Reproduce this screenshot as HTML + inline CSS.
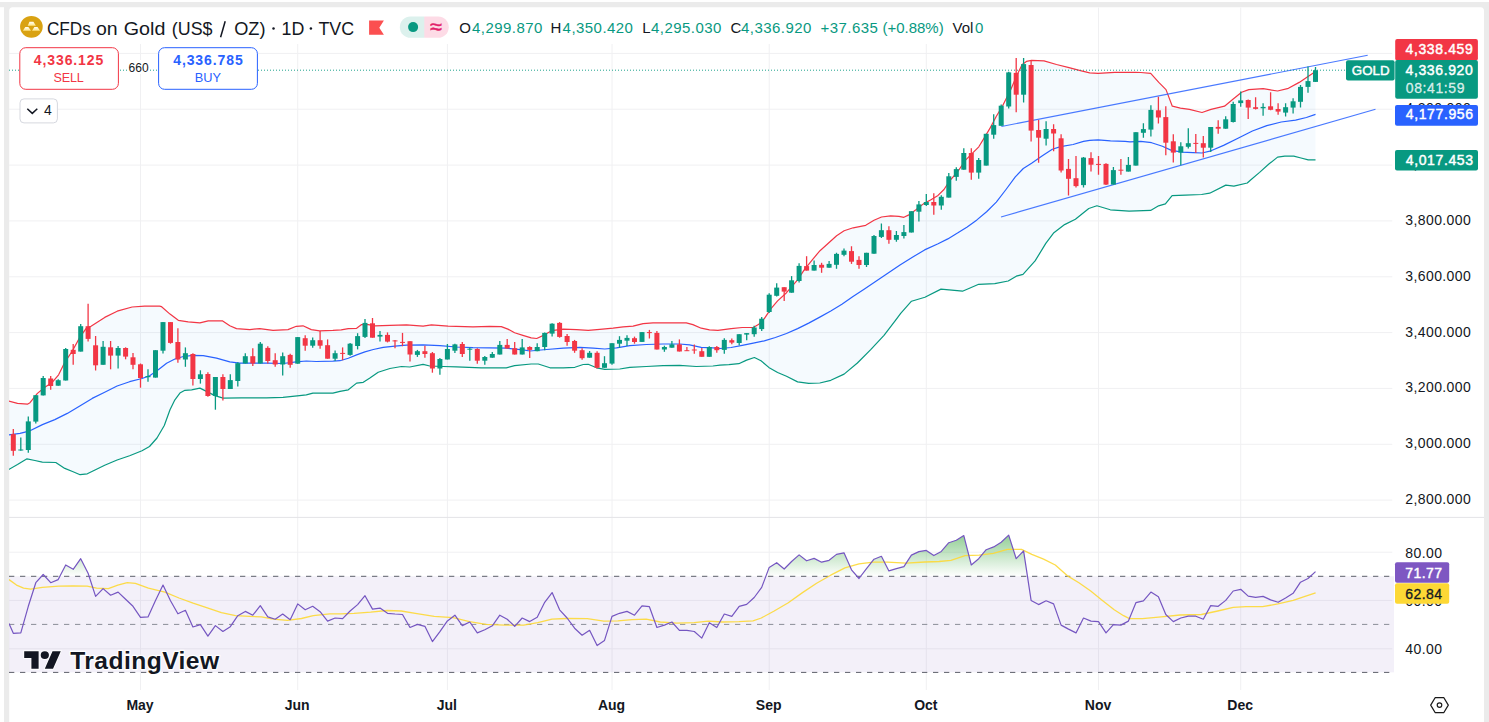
<!DOCTYPE html>
<html><head><meta charset="utf-8"><title>CFDs on Gold</title>
<style>html,body{margin:0;padding:0;background:#fff;}body{width:1489px;height:722px;overflow:hidden;position:relative;font-family:"Liberation Sans",sans-serif;}</style>
</head><body>
<svg width="1489" height="722" viewBox="0 0 1489 722" style="position:absolute;left:0;top:0">
<defs>
<linearGradient id="ob" x1="0" y1="534" x2="0" y2="576.5" gradientUnits="userSpaceOnUse"><stop offset="0" stop-color="#4caf50" stop-opacity="0.62"/><stop offset="1" stop-color="#4caf50" stop-opacity="0"/></linearGradient>
<clipPath id="ca"><rect x="0" y="0" width="1489" height="576.3"/></clipPath>
<clipPath id="pane"><rect x="9" y="7" width="1385.2" height="684"/></clipPath>
<linearGradient id="gb" x1="0" y1="0" x2="0" y2="1"><stop offset="0" stop-color="#ffffff"/><stop offset="1" stop-color="#ffe27a"/></linearGradient>
</defs>
<rect x="0" y="0" width="1489" height="722" fill="#ffffff"/>
<rect x="0" y="2" width="1489" height="5.2" fill="#ebebeb"/>
<rect x="4" y="2" width="1485" height="720" fill="#ebebeb"/>
<rect x="9.2" y="7.2" width="1474.8" height="730" rx="3.5" fill="#ffffff"/>
<line x1="9" y1="53.4" x2="1392.3" y2="53.4" stroke="#f0f0f2" stroke-width="1"/>
<line x1="9" y1="109.2" x2="1392.3" y2="109.2" stroke="#f0f0f2" stroke-width="1"/>
<line x1="9" y1="165.1" x2="1392.3" y2="165.1" stroke="#f0f0f2" stroke-width="1"/>
<line x1="9" y1="220.9" x2="1392.3" y2="220.9" stroke="#f0f0f2" stroke-width="1"/>
<line x1="9" y1="276.8" x2="1392.3" y2="276.8" stroke="#f0f0f2" stroke-width="1"/>
<line x1="9" y1="332.6" x2="1392.3" y2="332.6" stroke="#f0f0f2" stroke-width="1"/>
<line x1="9" y1="388.4" x2="1392.3" y2="388.4" stroke="#f0f0f2" stroke-width="1"/>
<line x1="9" y1="444.3" x2="1392.3" y2="444.3" stroke="#f0f0f2" stroke-width="1"/>
<line x1="9" y1="500.1" x2="1392.3" y2="500.1" stroke="#f0f0f2" stroke-width="1"/>
<line x1="140.5" y1="44" x2="140.5" y2="690" stroke="#f0f0f2" stroke-width="1"/>
<line x1="297.7" y1="44" x2="297.7" y2="690" stroke="#f0f0f2" stroke-width="1"/>
<line x1="447.4" y1="44" x2="447.4" y2="690" stroke="#f0f0f2" stroke-width="1"/>
<line x1="612" y1="44" x2="612" y2="690" stroke="#f0f0f2" stroke-width="1"/>
<line x1="769.2" y1="44" x2="769.2" y2="690" stroke="#f0f0f2" stroke-width="1"/>
<line x1="926.3" y1="44" x2="926.3" y2="690" stroke="#f0f0f2" stroke-width="1"/>
<line x1="1098.5" y1="7.5" x2="1098.5" y2="690" stroke="#f0f0f2" stroke-width="1"/>
<line x1="1240.7" y1="7.5" x2="1240.7" y2="690" stroke="#f0f0f2" stroke-width="1"/>
<line x1="9" y1="552.2" x2="1392.3" y2="552.2" stroke="#f0f0f2" stroke-width="1"/>
<line x1="9" y1="600.4" x2="1392.3" y2="600.4" stroke="#f0f0f2" stroke-width="1"/>
<line x1="9" y1="648.8" x2="1392.3" y2="648.8" stroke="#f0f0f2" stroke-width="1"/>
<line x1="9" y1="517.4" x2="1484" y2="517.4" stroke="#e4e4e7" stroke-width="1"/>
<g clip-path="url(#pane)">
<polygon points="8.7,401 17.5,403.4 27.4,404.2 30,402.7 37.4,393.4 44.9,387.2 52.4,382.2 58.6,374.8 64.8,362.3 72.3,351 79.8,337.4 86,328.6 91,326.2 104.7,317.4 117.2,311.2 132.1,307 144.6,306.2 159.5,306.2 161.6,306.7 170,314.1 178.3,320.3 188.2,321.9 199.9,322.9 208.2,320.8 222.3,320.8 229.8,325.8 236.5,328.6 249.8,329.6 259.7,328.6 273,330.3 288,329.6 296.3,326.3 303,325.8 311.3,329.6 319.6,330.8 332.9,330.4 341.2,329.9 348.3,328.6 356.6,328.3 361.6,324.6 368.3,324.6 374.9,325.8 389.9,325.3 406.5,324.9 423.1,326.1 431.4,324.9 448.1,326.1 473,326.9 489.6,326.3 501.3,326.6 507.9,329.1 514.6,332.8 522.9,335.4 531.2,337.9 536.7,338.5 545,334.6 551.6,330.7 563.3,329.1 576.6,329.6 588.2,330.4 599.8,329.4 613.1,328.2 623.1,326.9 633.1,326.1 643.1,323.7 653,322.9 671.3,322.8 686.3,322.9 692.9,324.6 701.2,328.2 709.5,329.9 717.9,330.4 731.1,328.6 742.2,327.5 753.3,327.5 758.8,324.2 764.3,318.7 771,308.7 777.6,300.9 786.5,292.7 797.6,279.9 804.2,269.9 813.1,258.8 820,250.7 828.3,243.2 836.6,235.7 844.1,230.7 853.2,227.8 865.7,225.3 874,220.3 881.5,217 890.6,215.9 898.9,216.4 903.9,217.3 908.9,214.9 915.6,210 923.1,204.1 930.5,200 938,195.4 944,189.5 949.8,180.7 957.5,172 965.3,160.4 973,152.6 978.8,146.8 984.7,137.1 990.5,127.4 996.2,116.5 1002.5,106.1 1010.8,89.5 1017,74.9 1022.2,64.5 1026.4,61.4 1031.6,60.4 1044,60.8 1056.5,64.5 1069,67.7 1079.4,70.4 1089.7,72.9 1098.1,73.3 1114.7,72.4 1135.5,72.4 1140.8,72.5 1150.7,73.4 1158.8,82.4 1166,89.6 1172.3,106.2 1180.4,108.1 1189.4,109.4 1202,112.5 1211,109.4 1224.5,106.2 1232.6,99.5 1241.6,92.3 1248.8,89.6 1263.2,88.7 1277.6,91 1288.4,88.3 1299.2,82.4 1307.3,77 1315.5,71.6 1315.5,159.8 1308.2,159.8 1301,158 1293.8,156.2 1284.8,156.2 1277.6,157.1 1268.6,164.3 1259.6,172.4 1250.6,180 1247.3,183 1233.9,186.2 1225.8,185.1 1209.7,193.2 1201.6,194.5 1185.5,195.1 1172.1,195.6 1165.4,203.9 1158.6,205.8 1150.6,210.4 1129.1,211.2 1110.3,209.8 1096.9,205.8 1088.8,208.5 1075.4,219.2 1064.6,224.6 1053.9,232.7 1045.8,243.4 1035.1,260.9 1023,274.3 1016.3,276.2 1008.2,281 994.8,283.7 978.7,284.3 962.5,291.2 941,289.1 924.9,297.2 911.5,301.2 900.7,313.3 895.1,320.9 884,335.3 870.7,349.7 857.4,363 844.1,374.1 830.8,380.3 819.8,383 808.7,383.4 797.6,381.9 786.5,376.3 777.6,372.5 768.8,367.4 761,360.8 754.4,357.5 746.6,360.1 738.8,363.7 728.9,364.6 720,365.2 712.9,366 696.2,366.5 679.6,365.3 663,365.6 646.4,366.5 629.8,367.3 619.8,369 604.8,369.3 596.5,367.8 588.2,364.3 583.2,364.5 574.9,367.3 563.3,367.8 550,367.8 538.3,364 531.2,364 514.6,365.7 506.3,367.8 481.3,367.8 456.4,366.8 443.1,366.5 429.8,366 423.1,364.3 409.8,367 401.5,366.5 389.9,368.5 378.2,372.3 369.9,378.1 363.3,382.3 356.6,383.1 348.3,389.8 340,391.4 332.9,393.1 312.9,393.1 306.3,394.8 299.6,395.6 283,397.3 266.4,397.8 241.4,397.8 223.2,398.1 214.8,395.6 206.5,391.4 199.9,388.1 191.6,389.8 184.9,390.3 179.9,393.1 174.9,399.8 170,409.7 164.3,425.5 157,438 149.5,446.5 142,450.8 129.6,455.7 117.1,460 104.7,465.2 95,470 87.3,473.8 80.1,474.7 72.5,471.5 64.8,468.4 55.8,462.5 42.3,462.1 34.9,460.5 27,458.8 17.5,464.5 8.7,469.5" fill="#2196f3" fill-opacity="0.045"/>
<polyline points="8.7,401 17.5,403.4 27.4,404.2 30,402.7 37.4,393.4 44.9,387.2 52.4,382.2 58.6,374.8 64.8,362.3 72.3,351 79.8,337.4 86,328.6 91,326.2 104.7,317.4 117.2,311.2 132.1,307 144.6,306.2 159.5,306.2 161.6,306.7 170,314.1 178.3,320.3 188.2,321.9 199.9,322.9 208.2,320.8 222.3,320.8 229.8,325.8 236.5,328.6 249.8,329.6 259.7,328.6 273,330.3 288,329.6 296.3,326.3 303,325.8 311.3,329.6 319.6,330.8 332.9,330.4 341.2,329.9 348.3,328.6 356.6,328.3 361.6,324.6 368.3,324.6 374.9,325.8 389.9,325.3 406.5,324.9 423.1,326.1 431.4,324.9 448.1,326.1 473,326.9 489.6,326.3 501.3,326.6 507.9,329.1 514.6,332.8 522.9,335.4 531.2,337.9 536.7,338.5 545,334.6 551.6,330.7 563.3,329.1 576.6,329.6 588.2,330.4 599.8,329.4 613.1,328.2 623.1,326.9 633.1,326.1 643.1,323.7 653,322.9 671.3,322.8 686.3,322.9 692.9,324.6 701.2,328.2 709.5,329.9 717.9,330.4 731.1,328.6 742.2,327.5 753.3,327.5 758.8,324.2 764.3,318.7 771,308.7 777.6,300.9 786.5,292.7 797.6,279.9 804.2,269.9 813.1,258.8 820,250.7 828.3,243.2 836.6,235.7 844.1,230.7 853.2,227.8 865.7,225.3 874,220.3 881.5,217 890.6,215.9 898.9,216.4 903.9,217.3 908.9,214.9 915.6,210 923.1,204.1 930.5,200 938,195.4 944,189.5 949.8,180.7 957.5,172 965.3,160.4 973,152.6 978.8,146.8 984.7,137.1 990.5,127.4 996.2,116.5 1002.5,106.1 1010.8,89.5 1017,74.9 1022.2,64.5 1026.4,61.4 1031.6,60.4 1044,60.8 1056.5,64.5 1069,67.7 1079.4,70.4 1089.7,72.9 1098.1,73.3 1114.7,72.4 1135.5,72.4 1140.8,72.5 1150.7,73.4 1158.8,82.4 1166,89.6 1172.3,106.2 1180.4,108.1 1189.4,109.4 1202,112.5 1211,109.4 1224.5,106.2 1232.6,99.5 1241.6,92.3 1248.8,89.6 1263.2,88.7 1277.6,91 1288.4,88.3 1299.2,82.4 1307.3,77 1315.5,71.6" fill="none" stroke="#f23645" stroke-width="1.2" stroke-linejoin="round"/>
<polyline points="8.7,469.5 17.5,464.5 27,458.8 34.9,460.5 42.3,462.1 55.8,462.5 64.8,468.4 72.5,471.5 80.1,474.7 87.3,473.8 95,470 104.7,465.2 117.1,460 129.6,455.7 142,450.8 149.5,446.5 157,438 164.3,425.5 170,409.7 174.9,399.8 179.9,393.1 184.9,390.3 191.6,389.8 199.9,388.1 206.5,391.4 214.8,395.6 223.2,398.1 241.4,397.8 266.4,397.8 283,397.3 299.6,395.6 306.3,394.8 312.9,393.1 332.9,393.1 340,391.4 348.3,389.8 356.6,383.1 363.3,382.3 369.9,378.1 378.2,372.3 389.9,368.5 401.5,366.5 409.8,367 423.1,364.3 429.8,366 443.1,366.5 456.4,366.8 481.3,367.8 506.3,367.8 514.6,365.7 531.2,364 538.3,364 550,367.8 563.3,367.8 574.9,367.3 583.2,364.5 588.2,364.3 596.5,367.8 604.8,369.3 619.8,369 629.8,367.3 646.4,366.5 663,365.6 679.6,365.3 696.2,366.5 712.9,366 720,365.2 728.9,364.6 738.8,363.7 746.6,360.1 754.4,357.5 761,360.8 768.8,367.4 777.6,372.5 786.5,376.3 797.6,381.9 808.7,383.4 819.8,383 830.8,380.3 844.1,374.1 857.4,363 870.7,349.7 884,335.3 895.1,320.9 900.7,313.3 911.5,301.2 924.9,297.2 941,289.1 962.5,291.2 978.7,284.3 994.8,283.7 1008.2,281 1016.3,276.2 1023,274.3 1035.1,260.9 1045.8,243.4 1053.9,232.7 1064.6,224.6 1075.4,219.2 1088.8,208.5 1096.9,205.8 1110.3,209.8 1129.1,211.2 1150.6,210.4 1158.6,205.8 1165.4,203.9 1172.1,195.6 1185.5,195.1 1201.6,194.5 1209.7,193.2 1225.8,185.1 1233.9,186.2 1247.3,183 1250.6,180 1259.6,172.4 1268.6,164.3 1277.6,157.1 1284.8,156.2 1293.8,156.2 1301,158 1308.2,159.8 1315.5,159.8" fill="none" stroke="#089981" stroke-width="1.2" stroke-linejoin="round"/>
<polyline points="8.7,435 20,433.3 30,430.8 42.4,424.6 54.8,419.6 67.3,413.4 79.8,405.9 92.2,398.4 104.7,392.2 117.1,386 129.6,381.7 142,378.5 150,375.6 158.3,369.8 166.6,363.2 174.9,359 183.3,356.5 193.2,355.4 203.2,355.7 216.5,358.2 229.8,361.8 239.8,363.2 253.1,363.2 266.4,363.2 283,363.5 296.3,361.8 306.3,361 316.3,361.5 332.9,361.2 340,360.7 348.3,358.2 356.6,354.9 364.9,351.9 373.3,349.5 383.2,347.4 394.9,346.1 406.5,345.2 423.1,344.9 439.8,345.7 456.4,347 473,347.7 489.6,347.9 506.3,348.2 522.9,349.9 530,351 546.6,349.5 563.3,348.2 579.9,347.4 593.2,348.2 604.8,349 616.5,347.9 629.8,345.7 646.4,344.5 663,344 679.6,344 689.6,344.9 701.2,347.4 712.9,347.9 720,348.5 731.1,347.5 742.2,345.3 753.3,343.1 764.3,340.8 775.4,337.5 786.5,333.5 797.6,328.6 808.7,323.1 819.8,317.1 830.8,310.9 841.9,304.3 853,296.5 864.1,289.2 875.2,281.7 886.3,274.3 900,265 912,257.5 924.6,249.9 938.1,243.7 947.8,238.9 957.5,233.1 967.2,226.9 976.9,219.9 986.6,211.7 996.3,202.1 1006,189.5 1015.3,176.9 1023.3,168.5 1031.6,163.2 1042,156 1052.3,149.3 1060.6,146.6 1073.1,144.5 1083.5,141.4 1089.7,140.4 1098.1,139.8 1110.5,140.8 1125.1,141.4 1130,141.8 1140.8,141.4 1151.6,142.7 1162.4,146.3 1171.4,150.4 1182.2,152.1 1193,152.6 1202,153 1211,150.8 1223.6,145.4 1238,138.2 1252.4,131 1266.8,125.6 1281.2,122 1295.6,120.2 1306.4,117.5 1315.5,114.4" fill="none" stroke="#2962ff" stroke-width="1.2" stroke-linejoin="round"/>
<line x1="1001.4" y1="126.5" x2="1367.7" y2="55.2" stroke="#2962ff" stroke-width="1.1" stroke-opacity="0.85"/>
<line x1="1001" y1="217" x2="1375.5" y2="109.3" stroke="#2962ff" stroke-width="1.1" stroke-opacity="0.85"/>
<line x1="9" y1="70.2" x2="1346" y2="70.2" stroke="#089981" stroke-width="1" stroke-dasharray="1 2" stroke-opacity="0.9"/>
<line x1="13.3" y1="429" x2="13.3" y2="455.7" stroke="#f23645" stroke-width="1.3"/>
<rect x="10.8" y="434.1" width="5" height="16.7" fill="#f23645"/>
<line x1="20.8" y1="437.5" x2="20.8" y2="450.8" stroke="#089981" stroke-width="1.3"/>
<rect x="18.3" y="449.5" width="5" height="1" fill="#089981"/>
<line x1="28.3" y1="416.4" x2="28.3" y2="452.8" stroke="#089981" stroke-width="1.3"/>
<rect x="25.8" y="421.4" width="5" height="28.6" fill="#089981"/>
<line x1="35.8" y1="395" x2="35.8" y2="423.6" stroke="#089981" stroke-width="1.3"/>
<rect x="33.3" y="395.2" width="5" height="26.4" fill="#089981"/>
<line x1="43.2" y1="376" x2="43.2" y2="395.4" stroke="#089981" stroke-width="1.3"/>
<rect x="40.7" y="378" width="5" height="17.4" fill="#089981"/>
<line x1="50.7" y1="376" x2="50.7" y2="389.7" stroke="#f23645" stroke-width="1.3"/>
<rect x="48.2" y="378.5" width="5" height="7.5" fill="#f23645"/>
<line x1="58.2" y1="379.2" x2="58.2" y2="385.7" stroke="#089981" stroke-width="1.3"/>
<rect x="55.7" y="380.2" width="5" height="5.5" fill="#089981"/>
<line x1="65.7" y1="348" x2="65.7" y2="380.5" stroke="#089981" stroke-width="1.3"/>
<rect x="63.2" y="349" width="5" height="31.5" fill="#089981"/>
<line x1="73.2" y1="344" x2="73.2" y2="364.8" stroke="#f23645" stroke-width="1.3"/>
<rect x="70.7" y="349.8" width="5" height="4.2" fill="#f23645"/>
<line x1="80.7" y1="324" x2="80.7" y2="351.6" stroke="#089981" stroke-width="1.3"/>
<rect x="78.2" y="326.2" width="5" height="25.4" fill="#089981"/>
<line x1="88.1" y1="303.7" x2="88.1" y2="341.4" stroke="#f23645" stroke-width="1.3"/>
<rect x="85.6" y="326.2" width="5" height="12.7" fill="#f23645"/>
<line x1="95.6" y1="336" x2="95.6" y2="370.5" stroke="#f23645" stroke-width="1.3"/>
<rect x="93.1" y="345.3" width="5" height="20" fill="#f23645"/>
<line x1="103.1" y1="341" x2="103.1" y2="364.8" stroke="#089981" stroke-width="1.3"/>
<rect x="100.6" y="346.8" width="5" height="18" fill="#089981"/>
<line x1="110.6" y1="341" x2="110.6" y2="369.3" stroke="#f23645" stroke-width="1.3"/>
<rect x="108.1" y="347.3" width="5" height="8.3" fill="#f23645"/>
<line x1="118.1" y1="346" x2="118.1" y2="368.5" stroke="#089981" stroke-width="1.3"/>
<rect x="115.6" y="348" width="5" height="7.6" fill="#089981"/>
<line x1="125.6" y1="347.3" x2="125.6" y2="359.3" stroke="#f23645" stroke-width="1.3"/>
<rect x="123.1" y="348" width="5" height="8.6" fill="#f23645"/>
<line x1="133" y1="353" x2="133" y2="369.3" stroke="#f23645" stroke-width="1.3"/>
<rect x="130.5" y="357.3" width="5" height="7.5" fill="#f23645"/>
<line x1="140.5" y1="363.5" x2="140.5" y2="387.7" stroke="#f23645" stroke-width="1.3"/>
<rect x="138" y="364.3" width="5" height="13.7" fill="#f23645"/>
<line x1="148" y1="369.3" x2="148" y2="381.7" stroke="#089981" stroke-width="1.3"/>
<rect x="145.5" y="376" width="5" height="1.2" fill="#089981"/>
<line x1="155.5" y1="350.2" x2="155.5" y2="377.6" stroke="#089981" stroke-width="1.3"/>
<rect x="153" y="350.2" width="5" height="27.4" fill="#089981"/>
<line x1="163" y1="322.1" x2="163" y2="353.5" stroke="#089981" stroke-width="1.3"/>
<rect x="160.5" y="322.1" width="5" height="28.6" fill="#089981"/>
<line x1="170.5" y1="322.1" x2="170.5" y2="343.7" stroke="#f23645" stroke-width="1.3"/>
<rect x="168" y="322.1" width="5" height="20.8" fill="#f23645"/>
<line x1="177.9" y1="328.3" x2="177.9" y2="362.8" stroke="#f23645" stroke-width="1.3"/>
<rect x="175.4" y="342" width="5" height="17.5" fill="#f23645"/>
<line x1="185.4" y1="347.4" x2="185.4" y2="366.8" stroke="#089981" stroke-width="1.3"/>
<rect x="182.9" y="353.2" width="5" height="6.3" fill="#089981"/>
<line x1="192.9" y1="353.2" x2="192.9" y2="385.6" stroke="#f23645" stroke-width="1.3"/>
<rect x="190.4" y="354" width="5" height="25" fill="#f23645"/>
<line x1="200.4" y1="370.3" x2="200.4" y2="383.6" stroke="#089981" stroke-width="1.3"/>
<rect x="197.9" y="374.3" width="5" height="4.7" fill="#089981"/>
<line x1="207.9" y1="372.3" x2="207.9" y2="396.8" stroke="#f23645" stroke-width="1.3"/>
<rect x="205.4" y="374" width="5" height="22" fill="#f23645"/>
<line x1="215.4" y1="377" x2="215.4" y2="409.7" stroke="#089981" stroke-width="1.3"/>
<rect x="212.9" y="377" width="5" height="19" fill="#089981"/>
<line x1="222.9" y1="374.3" x2="222.9" y2="400.6" stroke="#f23645" stroke-width="1.3"/>
<rect x="220.4" y="377" width="5" height="12" fill="#f23645"/>
<line x1="230.3" y1="374.3" x2="230.3" y2="389" stroke="#089981" stroke-width="1.3"/>
<rect x="227.8" y="380.1" width="5" height="8.9" fill="#089981"/>
<line x1="237.8" y1="362.3" x2="237.8" y2="386.5" stroke="#089981" stroke-width="1.3"/>
<rect x="235.3" y="363.2" width="5" height="17.8" fill="#089981"/>
<line x1="245.3" y1="353.2" x2="245.3" y2="363.5" stroke="#089981" stroke-width="1.3"/>
<rect x="242.8" y="356.2" width="5" height="7.3" fill="#089981"/>
<line x1="252.8" y1="348.2" x2="252.8" y2="366" stroke="#f23645" stroke-width="1.3"/>
<rect x="250.3" y="356.2" width="5" height="7.3" fill="#f23645"/>
<line x1="260.3" y1="342" x2="260.3" y2="363.5" stroke="#089981" stroke-width="1.3"/>
<rect x="257.8" y="343.7" width="5" height="19.8" fill="#089981"/>
<line x1="267.8" y1="346.2" x2="267.8" y2="363.5" stroke="#f23645" stroke-width="1.3"/>
<rect x="265.3" y="347.9" width="5" height="13.1" fill="#f23645"/>
<line x1="275.2" y1="353.2" x2="275.2" y2="366.8" stroke="#f23645" stroke-width="1.3"/>
<rect x="272.7" y="360.2" width="5" height="4.3" fill="#f23645"/>
<line x1="282.7" y1="352.4" x2="282.7" y2="375.6" stroke="#089981" stroke-width="1.3"/>
<rect x="280.2" y="356.2" width="5" height="8.3" fill="#089981"/>
<line x1="290.2" y1="353.7" x2="290.2" y2="367.8" stroke="#f23645" stroke-width="1.3"/>
<rect x="287.7" y="354.9" width="5" height="9.9" fill="#f23645"/>
<line x1="297.7" y1="337.1" x2="297.7" y2="363.7" stroke="#089981" stroke-width="1.3"/>
<rect x="295.2" y="337.1" width="5" height="26.6" fill="#089981"/>
<line x1="305.2" y1="335.2" x2="305.2" y2="350.7" stroke="#f23645" stroke-width="1.3"/>
<rect x="302.7" y="338.2" width="5" height="7.5" fill="#f23645"/>
<line x1="312.7" y1="337.4" x2="312.7" y2="347.7" stroke="#089981" stroke-width="1.3"/>
<rect x="310.2" y="340.2" width="5" height="5.5" fill="#089981"/>
<line x1="320.1" y1="331.1" x2="320.1" y2="348.7" stroke="#f23645" stroke-width="1.3"/>
<rect x="317.6" y="340.2" width="5" height="5.5" fill="#f23645"/>
<line x1="327.6" y1="339.4" x2="327.6" y2="358.7" stroke="#f23645" stroke-width="1.3"/>
<rect x="325.1" y="345.2" width="5" height="13.5" fill="#f23645"/>
<line x1="335.1" y1="350.4" x2="335.1" y2="361" stroke="#089981" stroke-width="1.3"/>
<rect x="332.6" y="353.2" width="5" height="5.5" fill="#089981"/>
<line x1="342.6" y1="347.4" x2="342.6" y2="360.2" stroke="#f23645" stroke-width="1.3"/>
<rect x="340.1" y="352.9" width="5" height="1" fill="#f23645"/>
<line x1="350.1" y1="342.9" x2="350.1" y2="355.7" stroke="#089981" stroke-width="1.3"/>
<rect x="347.6" y="343.7" width="5" height="11.2" fill="#089981"/>
<line x1="357.6" y1="333.2" x2="357.6" y2="349.4" stroke="#089981" stroke-width="1.3"/>
<rect x="355.1" y="336.1" width="5" height="9.9" fill="#089981"/>
<line x1="365" y1="319.1" x2="365" y2="337.9" stroke="#089981" stroke-width="1.3"/>
<rect x="362.5" y="322.9" width="5" height="14" fill="#089981"/>
<line x1="372.5" y1="318" x2="372.5" y2="337.7" stroke="#f23645" stroke-width="1.3"/>
<rect x="370" y="323.3" width="5" height="14.4" fill="#f23645"/>
<line x1="380" y1="331.1" x2="380" y2="341.6" stroke="#089981" stroke-width="1.3"/>
<rect x="377.5" y="334.9" width="5" height="1.7" fill="#089981"/>
<line x1="387.5" y1="332.4" x2="387.5" y2="342.4" stroke="#f23645" stroke-width="1.3"/>
<rect x="385" y="334.9" width="5" height="6.7" fill="#f23645"/>
<line x1="395" y1="339.9" x2="395" y2="348.2" stroke="#f23645" stroke-width="1.3"/>
<rect x="392.5" y="340.4" width="5" height="1" fill="#f23645"/>
<line x1="402.5" y1="332.9" x2="402.5" y2="346.2" stroke="#f23645" stroke-width="1.3"/>
<rect x="400" y="341.9" width="5" height="1" fill="#f23645"/>
<line x1="410" y1="341.2" x2="410" y2="361.5" stroke="#f23645" stroke-width="1.3"/>
<rect x="407.5" y="341.2" width="5" height="13.3" fill="#f23645"/>
<line x1="417.4" y1="349.9" x2="417.4" y2="356.9" stroke="#089981" stroke-width="1.3"/>
<rect x="414.9" y="351.2" width="5" height="3.7" fill="#089981"/>
<line x1="424.9" y1="345.7" x2="424.9" y2="357.7" stroke="#f23645" stroke-width="1.3"/>
<rect x="422.4" y="351.2" width="5" height="2.8" fill="#f23645"/>
<line x1="432.4" y1="352" x2="432.4" y2="372.7" stroke="#f23645" stroke-width="1.3"/>
<rect x="429.9" y="353.2" width="5" height="15.3" fill="#f23645"/>
<line x1="439.9" y1="357.9" x2="439.9" y2="374.8" stroke="#089981" stroke-width="1.3"/>
<rect x="437.4" y="359" width="5" height="9.5" fill="#089981"/>
<line x1="447.4" y1="344" x2="447.4" y2="359.5" stroke="#089981" stroke-width="1.3"/>
<rect x="444.9" y="349" width="5" height="10.5" fill="#089981"/>
<line x1="454.9" y1="343.7" x2="454.9" y2="352.9" stroke="#089981" stroke-width="1.3"/>
<rect x="452.4" y="344.4" width="5" height="6.3" fill="#089981"/>
<line x1="462.3" y1="342" x2="462.3" y2="356.9" stroke="#f23645" stroke-width="1.3"/>
<rect x="459.8" y="344" width="5" height="10" fill="#f23645"/>
<line x1="469.8" y1="347.4" x2="469.8" y2="360.7" stroke="#089981" stroke-width="1.3"/>
<rect x="467.3" y="348.7" width="5" height="1" fill="#089981"/>
<line x1="477.3" y1="348.2" x2="477.3" y2="363.7" stroke="#f23645" stroke-width="1.3"/>
<rect x="474.8" y="349" width="5" height="11.7" fill="#f23645"/>
<line x1="484.8" y1="356" x2="484.8" y2="364.8" stroke="#089981" stroke-width="1.3"/>
<rect x="482.3" y="357" width="5" height="3.7" fill="#089981"/>
<line x1="492.3" y1="352" x2="492.3" y2="357.7" stroke="#089981" stroke-width="1.3"/>
<rect x="489.8" y="354" width="5" height="3.7" fill="#089981"/>
<line x1="499.8" y1="341" x2="499.8" y2="354.5" stroke="#089981" stroke-width="1.3"/>
<rect x="497.3" y="344.9" width="5" height="9.6" fill="#089981"/>
<line x1="507.2" y1="339" x2="507.2" y2="348.5" stroke="#f23645" stroke-width="1.3"/>
<rect x="504.7" y="344.9" width="5" height="3.6" fill="#f23645"/>
<line x1="514.7" y1="342" x2="514.7" y2="354.5" stroke="#f23645" stroke-width="1.3"/>
<rect x="512.2" y="348.2" width="5" height="6.3" fill="#f23645"/>
<line x1="522.2" y1="339" x2="522.2" y2="354.5" stroke="#089981" stroke-width="1.3"/>
<rect x="519.7" y="347.4" width="5" height="7.1" fill="#089981"/>
<line x1="529.7" y1="346.2" x2="529.7" y2="357.9" stroke="#f23645" stroke-width="1.3"/>
<rect x="527.2" y="347" width="5" height="2.9" fill="#f23645"/>
<line x1="537.2" y1="343.2" x2="537.2" y2="351.2" stroke="#089981" stroke-width="1.3"/>
<rect x="534.7" y="347" width="5" height="4.2" fill="#089981"/>
<line x1="544.7" y1="332.4" x2="544.7" y2="350.2" stroke="#089981" stroke-width="1.3"/>
<rect x="542.2" y="332.9" width="5" height="14.1" fill="#089981"/>
<line x1="552.1" y1="323.3" x2="552.1" y2="336.6" stroke="#089981" stroke-width="1.3"/>
<rect x="549.6" y="323.7" width="5" height="9.9" fill="#089981"/>
<line x1="559.6" y1="322.1" x2="559.6" y2="337.7" stroke="#f23645" stroke-width="1.3"/>
<rect x="557.1" y="322.9" width="5" height="14" fill="#f23645"/>
<line x1="567.1" y1="334" x2="567.1" y2="345.7" stroke="#f23645" stroke-width="1.3"/>
<rect x="564.6" y="336" width="5" height="6" fill="#f23645"/>
<line x1="574.6" y1="339.9" x2="574.6" y2="352.8" stroke="#f23645" stroke-width="1.3"/>
<rect x="572.1" y="341" width="5" height="9.7" fill="#f23645"/>
<line x1="582.1" y1="348.2" x2="582.1" y2="359.8" stroke="#f23645" stroke-width="1.3"/>
<rect x="579.6" y="350.2" width="5" height="8" fill="#f23645"/>
<line x1="589.6" y1="351" x2="589.6" y2="357.7" stroke="#089981" stroke-width="1.3"/>
<rect x="587.1" y="352.8" width="5" height="4.9" fill="#089981"/>
<line x1="597.1" y1="351.2" x2="597.1" y2="368.5" stroke="#f23645" stroke-width="1.3"/>
<rect x="594.6" y="352.8" width="5" height="15" fill="#f23645"/>
<line x1="604.5" y1="356.2" x2="604.5" y2="367.8" stroke="#089981" stroke-width="1.3"/>
<rect x="602" y="363.2" width="5" height="4.6" fill="#089981"/>
<line x1="612" y1="343.2" x2="612" y2="364.8" stroke="#089981" stroke-width="1.3"/>
<rect x="609.5" y="343.2" width="5" height="20.4" fill="#089981"/>
<line x1="619.5" y1="336.2" x2="619.5" y2="347.7" stroke="#089981" stroke-width="1.3"/>
<rect x="617" y="339.9" width="5" height="3.8" fill="#089981"/>
<line x1="627" y1="335.2" x2="627" y2="346" stroke="#089981" stroke-width="1.3"/>
<rect x="624.5" y="337.9" width="5" height="2.8" fill="#089981"/>
<line x1="634.5" y1="336.6" x2="634.5" y2="343.7" stroke="#f23645" stroke-width="1.3"/>
<rect x="632" y="338.2" width="5" height="3.8" fill="#f23645"/>
<line x1="642" y1="332.1" x2="642" y2="341.9" stroke="#089981" stroke-width="1.3"/>
<rect x="639.5" y="332.1" width="5" height="9.8" fill="#089981"/>
<line x1="649.4" y1="329.9" x2="649.4" y2="338.5" stroke="#f23645" stroke-width="1.3"/>
<rect x="646.9" y="332.1" width="5" height="1" fill="#f23645"/>
<line x1="656.9" y1="331.1" x2="656.9" y2="349.5" stroke="#f23645" stroke-width="1.3"/>
<rect x="654.4" y="332.9" width="5" height="16.6" fill="#f23645"/>
<line x1="664.4" y1="345.7" x2="664.4" y2="351.8" stroke="#089981" stroke-width="1.3"/>
<rect x="661.9" y="347" width="5" height="2.5" fill="#089981"/>
<line x1="671.9" y1="341" x2="671.9" y2="347.7" stroke="#089981" stroke-width="1.3"/>
<rect x="669.4" y="344.4" width="5" height="3.3" fill="#089981"/>
<line x1="679.4" y1="339.4" x2="679.4" y2="351.5" stroke="#f23645" stroke-width="1.3"/>
<rect x="676.9" y="344.4" width="5" height="7.1" fill="#f23645"/>
<line x1="686.9" y1="347" x2="686.9" y2="351" stroke="#f23645" stroke-width="1.3"/>
<rect x="684.4" y="350.2" width="5" height="1" fill="#f23645"/>
<line x1="694.3" y1="344.4" x2="694.3" y2="353.7" stroke="#f23645" stroke-width="1.3"/>
<rect x="691.8" y="349.5" width="5" height="1" fill="#f23645"/>
<line x1="701.8" y1="347.9" x2="701.8" y2="356.8" stroke="#f23645" stroke-width="1.3"/>
<rect x="699.3" y="351.2" width="5" height="5.6" fill="#f23645"/>
<line x1="709.3" y1="346.2" x2="709.3" y2="356.8" stroke="#089981" stroke-width="1.3"/>
<rect x="706.8" y="347" width="5" height="9.8" fill="#089981"/>
<line x1="716.8" y1="346" x2="716.8" y2="352.7" stroke="#f23645" stroke-width="1.3"/>
<rect x="714.3" y="347" width="5" height="3.2" fill="#f23645"/>
<line x1="724.3" y1="338.2" x2="724.3" y2="353.7" stroke="#089981" stroke-width="1.3"/>
<rect x="721.8" y="339.9" width="5" height="10" fill="#089981"/>
<line x1="731.8" y1="338.6" x2="731.8" y2="344.2" stroke="#f23645" stroke-width="1.3"/>
<rect x="729.3" y="340.2" width="5" height="2.4" fill="#f23645"/>
<line x1="739.2" y1="334.2" x2="739.2" y2="345.3" stroke="#089981" stroke-width="1.3"/>
<rect x="736.7" y="334.2" width="5" height="8.8" fill="#089981"/>
<line x1="746.7" y1="333.1" x2="746.7" y2="340.2" stroke="#089981" stroke-width="1.3"/>
<rect x="744.2" y="333.1" width="5" height="1.5" fill="#089981"/>
<line x1="754.2" y1="325.8" x2="754.2" y2="336.8" stroke="#089981" stroke-width="1.3"/>
<rect x="751.7" y="327.5" width="5" height="6.7" fill="#089981"/>
<line x1="761.7" y1="317.1" x2="761.7" y2="330.9" stroke="#089981" stroke-width="1.3"/>
<rect x="759.2" y="318.7" width="5" height="10.4" fill="#089981"/>
<line x1="769.2" y1="293.2" x2="769.2" y2="313.1" stroke="#089981" stroke-width="1.3"/>
<rect x="766.7" y="294.7" width="5" height="17.3" fill="#089981"/>
<line x1="776.7" y1="283.2" x2="776.7" y2="296.5" stroke="#089981" stroke-width="1.3"/>
<rect x="774.2" y="287.6" width="5" height="8.2" fill="#089981"/>
<line x1="784.2" y1="287.2" x2="784.2" y2="300.9" stroke="#f23645" stroke-width="1.3"/>
<rect x="781.7" y="287.2" width="5" height="4.4" fill="#f23645"/>
<line x1="791.6" y1="276.1" x2="791.6" y2="292.7" stroke="#089981" stroke-width="1.3"/>
<rect x="789.1" y="280.3" width="5" height="12.4" fill="#089981"/>
<line x1="799.1" y1="263.3" x2="799.1" y2="282.5" stroke="#089981" stroke-width="1.3"/>
<rect x="796.6" y="265.9" width="5" height="15.1" fill="#089981"/>
<line x1="806.6" y1="256.2" x2="806.6" y2="270.6" stroke="#f23645" stroke-width="1.3"/>
<rect x="804.1" y="266.1" width="5" height="4.5" fill="#f23645"/>
<line x1="814.1" y1="260.4" x2="814.1" y2="270.6" stroke="#089981" stroke-width="1.3"/>
<rect x="811.6" y="265" width="5" height="5.6" fill="#089981"/>
<line x1="821.6" y1="262.8" x2="821.6" y2="272.8" stroke="#f23645" stroke-width="1.3"/>
<rect x="819.1" y="264.8" width="5" height="2.9" fill="#f23645"/>
<line x1="829.1" y1="261" x2="829.1" y2="267.7" stroke="#089981" stroke-width="1.3"/>
<rect x="826.6" y="263.9" width="5" height="3.8" fill="#089981"/>
<line x1="836.5" y1="252.8" x2="836.5" y2="268.8" stroke="#089981" stroke-width="1.3"/>
<rect x="834" y="253.9" width="5" height="10.9" fill="#089981"/>
<line x1="844" y1="248.4" x2="844" y2="256.2" stroke="#089981" stroke-width="1.3"/>
<rect x="841.5" y="250.6" width="5" height="4.2" fill="#089981"/>
<line x1="851.5" y1="246.2" x2="851.5" y2="263.9" stroke="#f23645" stroke-width="1.3"/>
<rect x="849" y="251.1" width="5" height="10.6" fill="#f23645"/>
<line x1="859" y1="256.2" x2="859" y2="268.8" stroke="#f23645" stroke-width="1.3"/>
<rect x="856.5" y="259.9" width="5" height="5.1" fill="#f23645"/>
<line x1="866.5" y1="252.8" x2="866.5" y2="267" stroke="#089981" stroke-width="1.3"/>
<rect x="864" y="252.8" width="5" height="12.2" fill="#089981"/>
<line x1="874" y1="235.1" x2="874" y2="253.7" stroke="#089981" stroke-width="1.3"/>
<rect x="871.5" y="236" width="5" height="17.7" fill="#089981"/>
<line x1="881.4" y1="223.4" x2="881.4" y2="237.9" stroke="#089981" stroke-width="1.3"/>
<rect x="878.9" y="230.2" width="5" height="6.7" fill="#089981"/>
<line x1="888.9" y1="226.3" x2="888.9" y2="243.7" stroke="#f23645" stroke-width="1.3"/>
<rect x="886.4" y="230.2" width="5" height="9.6" fill="#f23645"/>
<line x1="896.4" y1="231.1" x2="896.4" y2="241.8" stroke="#089981" stroke-width="1.3"/>
<rect x="893.9" y="235" width="5" height="4.8" fill="#089981"/>
<line x1="903.9" y1="224.9" x2="903.9" y2="238.5" stroke="#089981" stroke-width="1.3"/>
<rect x="901.4" y="232.1" width="5" height="3.9" fill="#089981"/>
<line x1="911.4" y1="211.2" x2="911.4" y2="232.5" stroke="#089981" stroke-width="1.3"/>
<rect x="908.9" y="211.2" width="5" height="21.3" fill="#089981"/>
<line x1="918.9" y1="201.1" x2="918.9" y2="221.4" stroke="#089981" stroke-width="1.3"/>
<rect x="916.4" y="204.4" width="5" height="7.3" fill="#089981"/>
<line x1="926.3" y1="193.9" x2="926.3" y2="205.9" stroke="#089981" stroke-width="1.3"/>
<rect x="923.8" y="202" width="5" height="3" fill="#089981"/>
<line x1="933.8" y1="193.3" x2="933.8" y2="214.7" stroke="#f23645" stroke-width="1.3"/>
<rect x="931.3" y="202" width="5" height="3.5" fill="#f23645"/>
<line x1="941.3" y1="195.3" x2="941.3" y2="209.8" stroke="#089981" stroke-width="1.3"/>
<rect x="938.8" y="196.8" width="5" height="8.7" fill="#089981"/>
<line x1="948.8" y1="173" x2="948.8" y2="197.6" stroke="#089981" stroke-width="1.3"/>
<rect x="946.3" y="176.3" width="5" height="21.3" fill="#089981"/>
<line x1="956.3" y1="167.2" x2="956.3" y2="180.7" stroke="#089981" stroke-width="1.3"/>
<rect x="953.8" y="169.1" width="5" height="7.8" fill="#089981"/>
<line x1="963.8" y1="148.2" x2="963.8" y2="169.7" stroke="#089981" stroke-width="1.3"/>
<rect x="961.3" y="153" width="5" height="16.7" fill="#089981"/>
<line x1="971.3" y1="148.2" x2="971.3" y2="179.8" stroke="#f23645" stroke-width="1.3"/>
<rect x="968.8" y="153" width="5" height="19.6" fill="#f23645"/>
<line x1="978.7" y1="158.1" x2="978.7" y2="178.8" stroke="#089981" stroke-width="1.3"/>
<rect x="976.2" y="160" width="5" height="12.6" fill="#089981"/>
<line x1="986.2" y1="133.8" x2="986.2" y2="165.6" stroke="#089981" stroke-width="1.3"/>
<rect x="983.7" y="133.8" width="5" height="31.8" fill="#089981"/>
<line x1="993.7" y1="114.3" x2="993.7" y2="138.8" stroke="#089981" stroke-width="1.3"/>
<rect x="991.2" y="125.1" width="5" height="9.6" fill="#089981"/>
<line x1="1001.2" y1="104.4" x2="1001.2" y2="125.8" stroke="#089981" stroke-width="1.3"/>
<rect x="998.7" y="105.7" width="5" height="20.1" fill="#089981"/>
<line x1="1008.7" y1="71.8" x2="1008.7" y2="108.6" stroke="#089981" stroke-width="1.3"/>
<rect x="1006.2" y="72.4" width="5" height="34.1" fill="#089981"/>
<line x1="1016.2" y1="57.9" x2="1016.2" y2="112.3" stroke="#f23645" stroke-width="1.3"/>
<rect x="1013.7" y="72.9" width="5" height="21.8" fill="#f23645"/>
<line x1="1023.6" y1="57.9" x2="1023.6" y2="102.6" stroke="#089981" stroke-width="1.3"/>
<rect x="1021.1" y="64.1" width="5" height="30.6" fill="#089981"/>
<line x1="1031.1" y1="60" x2="1031.1" y2="141.4" stroke="#f23645" stroke-width="1.3"/>
<rect x="1028.6" y="65" width="5" height="65.6" fill="#f23645"/>
<line x1="1038.6" y1="120" x2="1038.6" y2="162.8" stroke="#f23645" stroke-width="1.3"/>
<rect x="1036.1" y="130" width="5" height="7.7" fill="#f23645"/>
<line x1="1046.1" y1="121.3" x2="1046.1" y2="145.6" stroke="#089981" stroke-width="1.3"/>
<rect x="1043.6" y="129" width="5" height="9.7" fill="#089981"/>
<line x1="1053.6" y1="124.2" x2="1053.6" y2="151.2" stroke="#f23645" stroke-width="1.3"/>
<rect x="1051.1" y="129" width="5" height="4.5" fill="#f23645"/>
<line x1="1061.1" y1="134.2" x2="1061.1" y2="172.6" stroke="#f23645" stroke-width="1.3"/>
<rect x="1058.6" y="138.3" width="5" height="32.2" fill="#f23645"/>
<line x1="1068.5" y1="159.1" x2="1068.5" y2="195.5" stroke="#f23645" stroke-width="1.3"/>
<rect x="1066" y="168.9" width="5" height="9.9" fill="#f23645"/>
<line x1="1076" y1="156" x2="1076" y2="187.6" stroke="#f23645" stroke-width="1.3"/>
<rect x="1073.5" y="178.2" width="5" height="7.9" fill="#f23645"/>
<line x1="1083.5" y1="157" x2="1083.5" y2="187.6" stroke="#089981" stroke-width="1.3"/>
<rect x="1081" y="157.6" width="5" height="27.5" fill="#089981"/>
<line x1="1091" y1="152.2" x2="1091" y2="171.6" stroke="#f23645" stroke-width="1.3"/>
<rect x="1088.5" y="158.1" width="5" height="6.6" fill="#f23645"/>
<line x1="1098.5" y1="156" x2="1098.5" y2="174.7" stroke="#f23645" stroke-width="1.3"/>
<rect x="1096" y="163.9" width="5" height="1" fill="#f23645"/>
<line x1="1106" y1="163.2" x2="1106" y2="185.1" stroke="#f23645" stroke-width="1.3"/>
<rect x="1103.5" y="163.9" width="5" height="20.7" fill="#f23645"/>
<line x1="1113.4" y1="167" x2="1113.4" y2="184.6" stroke="#089981" stroke-width="1.3"/>
<rect x="1110.9" y="170.1" width="5" height="14.5" fill="#089981"/>
<line x1="1120.9" y1="159.1" x2="1120.9" y2="174.7" stroke="#f23645" stroke-width="1.3"/>
<rect x="1118.4" y="169.7" width="5" height="1" fill="#f23645"/>
<line x1="1128.4" y1="157" x2="1128.4" y2="171.6" stroke="#089981" stroke-width="1.3"/>
<rect x="1125.9" y="164.9" width="5" height="6.7" fill="#089981"/>
<line x1="1135.9" y1="132.2" x2="1135.9" y2="165.6" stroke="#089981" stroke-width="1.3"/>
<rect x="1133.4" y="132.2" width="5" height="33.4" fill="#089981"/>
<line x1="1143.4" y1="123.2" x2="1143.4" y2="137.7" stroke="#089981" stroke-width="1.3"/>
<rect x="1140.9" y="129.1" width="5" height="3.7" fill="#089981"/>
<line x1="1150.9" y1="105.3" x2="1150.9" y2="136.4" stroke="#089981" stroke-width="1.3"/>
<rect x="1148.4" y="109.9" width="5" height="19.7" fill="#089981"/>
<line x1="1158.4" y1="96.8" x2="1158.4" y2="123.4" stroke="#f23645" stroke-width="1.3"/>
<rect x="1155.9" y="110.3" width="5" height="7.2" fill="#f23645"/>
<line x1="1165.8" y1="106.3" x2="1165.8" y2="155.3" stroke="#f23645" stroke-width="1.3"/>
<rect x="1163.3" y="117.1" width="5" height="25.6" fill="#f23645"/>
<line x1="1173.3" y1="134.2" x2="1173.3" y2="162.5" stroke="#f23645" stroke-width="1.3"/>
<rect x="1170.8" y="141.3" width="5" height="11.3" fill="#f23645"/>
<line x1="1180.8" y1="142.3" x2="1180.8" y2="165.2" stroke="#089981" stroke-width="1.3"/>
<rect x="1178.3" y="146.3" width="5" height="6.3" fill="#089981"/>
<line x1="1188.3" y1="128.3" x2="1188.3" y2="148.6" stroke="#089981" stroke-width="1.3"/>
<rect x="1185.8" y="143.2" width="5" height="3.6" fill="#089981"/>
<line x1="1195.8" y1="134.1" x2="1195.8" y2="153.1" stroke="#f23645" stroke-width="1.3"/>
<rect x="1193.3" y="142.9" width="5" height="1" fill="#f23645"/>
<line x1="1203.3" y1="136" x2="1203.3" y2="157.6" stroke="#f23645" stroke-width="1.3"/>
<rect x="1200.8" y="143.2" width="5" height="4.5" fill="#f23645"/>
<line x1="1210.7" y1="127" x2="1210.7" y2="152.1" stroke="#089981" stroke-width="1.3"/>
<rect x="1208.2" y="127" width="5" height="20.7" fill="#089981"/>
<line x1="1218.2" y1="120.2" x2="1218.2" y2="133.7" stroke="#f23645" stroke-width="1.3"/>
<rect x="1215.7" y="126.9" width="5" height="1.8" fill="#f23645"/>
<line x1="1225.7" y1="116.2" x2="1225.7" y2="128.7" stroke="#089981" stroke-width="1.3"/>
<rect x="1223.2" y="119.3" width="5" height="9.4" fill="#089981"/>
<line x1="1233.2" y1="101.7" x2="1233.2" y2="122.5" stroke="#089981" stroke-width="1.3"/>
<rect x="1230.7" y="104" width="5" height="18" fill="#089981"/>
<line x1="1240.7" y1="91.4" x2="1240.7" y2="106.7" stroke="#089981" stroke-width="1.3"/>
<rect x="1238.2" y="100.4" width="5" height="2.7" fill="#089981"/>
<line x1="1248.2" y1="99.5" x2="1248.2" y2="118.9" stroke="#f23645" stroke-width="1.3"/>
<rect x="1245.7" y="100" width="5" height="7.6" fill="#f23645"/>
<line x1="1255.6" y1="97.2" x2="1255.6" y2="109.4" stroke="#f23645" stroke-width="1.3"/>
<rect x="1253.1" y="107.2" width="5" height="1.7" fill="#f23645"/>
<line x1="1263.1" y1="103.3" x2="1263.1" y2="115.7" stroke="#089981" stroke-width="1.3"/>
<rect x="1260.6" y="106.9" width="5" height="1.4" fill="#089981"/>
<line x1="1270.6" y1="92.3" x2="1270.6" y2="110.3" stroke="#f23645" stroke-width="1.3"/>
<rect x="1268.1" y="106.3" width="5" height="3.5" fill="#f23645"/>
<line x1="1278.1" y1="103.3" x2="1278.1" y2="114.8" stroke="#f23645" stroke-width="1.3"/>
<rect x="1275.6" y="109" width="5" height="2.6" fill="#f23645"/>
<line x1="1285.6" y1="103.3" x2="1285.6" y2="116.6" stroke="#089981" stroke-width="1.3"/>
<rect x="1283.1" y="107.2" width="5" height="5.4" fill="#089981"/>
<line x1="1293.1" y1="98.2" x2="1293.1" y2="113.5" stroke="#089981" stroke-width="1.3"/>
<rect x="1290.6" y="101.3" width="5" height="6.3" fill="#089981"/>
<line x1="1300.5" y1="85.1" x2="1300.5" y2="107.6" stroke="#089981" stroke-width="1.3"/>
<rect x="1298" y="86.9" width="5" height="14.9" fill="#089981"/>
<line x1="1308" y1="66.6" x2="1308" y2="92.7" stroke="#089981" stroke-width="1.3"/>
<rect x="1305.5" y="81.1" width="5" height="5.8" fill="#089981"/>
<line x1="1315.5" y1="67.1" x2="1315.5" y2="81.9" stroke="#089981" stroke-width="1.3"/>
<rect x="1313" y="70.2" width="5" height="11.7" fill="#089981"/>
<rect x="9" y="576.3" width="1385.2" height="96" fill="#7e57c2" fill-opacity="0.09"/>
<polygon points="9,576.3 9,623.5 13.3,633.3 20.8,632.9 28.3,606.3 35.8,582.7 43.2,574.5 50.7,582.7 58.2,579.6 65.7,565 73.2,569.3 80.7,558.7 88.1,573.3 95.6,596.4 103.1,588.6 110.6,595.2 118.1,592.1 125.6,599.2 133,606.3 140.5,617.3 148,616.9 155.5,600.4 163,585.1 170.5,600.8 177.9,613.8 185.4,610.3 192.9,627 200.4,624.6 207.9,636.2 215.4,625.6 222.9,631.5 230.3,626.7 237.8,615.7 245.3,611.4 252.8,615.2 260.3,605.6 267.8,616.9 275.2,619.2 282.7,614 290.2,619.7 297.7,603.9 305.2,609.8 312.7,606.3 320.1,611.7 327.6,621.1 335.1,618 342.6,618.7 350.1,611 357.6,604.6 365,595.7 372.5,609.1 380,608.1 387.5,613.3 395,614 402.5,614.5 410,627.5 417.4,624.4 424.9,626.3 432.4,641.6 439.9,631.7 447.4,620.9 454.9,615.2 462.3,625.6 469.8,622 477.3,632.9 484.8,629.8 492.3,625.8 499.8,615.2 507.2,619.2 514.7,626.3 522.2,618 529.7,621.6 537.2,617.3 544.7,602.3 552.1,592.6 559.6,609.8 567.1,618 574.6,628.2 582.1,635.2 589.6,630.3 597.1,645.6 604.5,640.4 612,616.4 619.5,613.3 627,611.4 634.5,615.2 642,605.8 649.4,606.7 656.9,627.5 664.4,625.1 671.9,622 679.4,630.3 686.9,630.3 694.3,631.5 701.8,638.1 709.3,622.7 716.8,627.5 724.3,614 731.8,616.4 739.2,606.3 746.7,604.4 754.2,597.5 761.7,587.4 769.2,567.4 776.7,562.7 784.2,569 791.6,561.5 799.1,554.9 806.6,560.8 814.1,558.4 821.6,562.2 829.1,560.3 836.5,554.4 844,552.8 851.5,569.8 859,578.5 866.5,568.6 874,559.2 881.4,556.3 888.9,570.9 896.4,568.6 903.9,566.7 911.4,555.1 918.9,551.6 926.3,550.4 933.8,555.6 941.3,551.4 948.8,542.7 956.3,540.3 963.8,535.6 971.3,565 978.7,558.7 986.2,549.7 993.7,546.9 1001.2,542.2 1008.7,535.1 1016.2,558.7 1023.6,550.9 1031.1,600.4 1038.6,604.6 1046.1,600.8 1053.6,603.9 1061.1,625.1 1068.5,629.1 1076,632.9 1083.5,618 1091,621.1 1098.5,621.6 1106,632.9 1113.4,624.6 1120.9,625.1 1128.4,621.1 1135.9,602.7 1143.4,600.8 1150.9,592.1 1158.4,596.8 1165.8,614.5 1173.3,621.6 1180.8,618 1188.3,616.2 1195.8,616.2 1203.3,619.2 1210.7,605.6 1218.2,606.3 1225.7,600.4 1233.2,591 1240.7,589.3 1248.2,596.1 1255.6,597.3 1263.1,596.4 1270.6,599.9 1278.1,602.3 1285.6,598 1293.1,593.3 1300.5,582.2 1308,578.5 1315.5,571.6 1315.5,576.3" fill="url(#ob)" clip-path="url(#ca)"/>
<line x1="9" y1="576.3" x2="1389.5" y2="576.3" stroke="#5d606b" stroke-width="1" stroke-dasharray="5.3 5.7" stroke-dashoffset="0"/>
<line x1="9" y1="624.4" x2="1389.5" y2="624.4" stroke="#8a8d97" stroke-width="1" stroke-dasharray="5.3 5.7" stroke-dashoffset="0"/>
<line x1="9" y1="672.4" x2="1389.5" y2="672.4" stroke="#5d606b" stroke-width="1" stroke-dasharray="5.3 5.7" stroke-dashoffset="0"/>
<polyline points="9,579.6 16.5,585.1 23.6,588.1 30.6,589.1 42.4,587.4 58.9,586.2 73,585.8 87.1,586.2 96.6,588.1 108.3,588.6 117.8,585.1 127.2,582.7 135.4,583.4 148.4,588.1 164.9,592.1 179,598 193.1,603.2 207.3,607.9 221.4,612.6 235.5,615.7 249.7,616.4 261.4,616.9 273.2,619.2 287.3,620.4 301.5,618.5 313.3,615.7 329.7,613.8 340,613.8 354.1,613.3 370.6,612.1 387.1,610.5 401.2,611 415.4,613.3 434.2,616.4 453.1,617.6 469.5,621.6 486,624.4 504.9,625.1 523.7,625.1 537.8,622.7 552,619.2 566.1,618.5 587.3,618.7 603.8,621.1 617.9,620.9 632.1,619.7 646.2,619.2 660.3,622 676.8,623.2 694.1,622.7 708.3,621.1 722.4,622 738.9,621.6 753,620.9 761.3,618 774.2,611 788.3,602.7 802.5,592.6 816.6,583.2 830.7,575.2 844.9,567.9 859,563.9 873.1,562.2 887.3,562.2 906.1,563.2 925,562 939.1,561.5 950.9,560.3 965,555.6 979.1,555.1 993.3,553.3 1007.4,549.3 1021.5,549.3 1031.8,554.4 1043.6,559.2 1055.3,565 1067.1,575.6 1078.9,582.7 1090.7,591 1102.4,600.4 1114.2,609.8 1123.6,615.7 1129.5,618.7 1142.5,618.7 1161.3,616.9 1180.2,615 1201.4,614.5 1217.8,611 1233.2,607.4 1246.1,606.7 1262.6,606.7 1277.9,603.9 1293.2,600.4 1305,596.4 1315.6,592.8" fill="none" stroke="#fdd835" stroke-width="1.3" stroke-linejoin="round" stroke-opacity="0.9"/>
<polyline points="9,623.5 13.3,633.3 20.8,632.9 28.3,606.3 35.8,582.7 43.2,574.5 50.7,582.7 58.2,579.6 65.7,565 73.2,569.3 80.7,558.7 88.1,573.3 95.6,596.4 103.1,588.6 110.6,595.2 118.1,592.1 125.6,599.2 133,606.3 140.5,617.3 148,616.9 155.5,600.4 163,585.1 170.5,600.8 177.9,613.8 185.4,610.3 192.9,627 200.4,624.6 207.9,636.2 215.4,625.6 222.9,631.5 230.3,626.7 237.8,615.7 245.3,611.4 252.8,615.2 260.3,605.6 267.8,616.9 275.2,619.2 282.7,614 290.2,619.7 297.7,603.9 305.2,609.8 312.7,606.3 320.1,611.7 327.6,621.1 335.1,618 342.6,618.7 350.1,611 357.6,604.6 365,595.7 372.5,609.1 380,608.1 387.5,613.3 395,614 402.5,614.5 410,627.5 417.4,624.4 424.9,626.3 432.4,641.6 439.9,631.7 447.4,620.9 454.9,615.2 462.3,625.6 469.8,622 477.3,632.9 484.8,629.8 492.3,625.8 499.8,615.2 507.2,619.2 514.7,626.3 522.2,618 529.7,621.6 537.2,617.3 544.7,602.3 552.1,592.6 559.6,609.8 567.1,618 574.6,628.2 582.1,635.2 589.6,630.3 597.1,645.6 604.5,640.4 612,616.4 619.5,613.3 627,611.4 634.5,615.2 642,605.8 649.4,606.7 656.9,627.5 664.4,625.1 671.9,622 679.4,630.3 686.9,630.3 694.3,631.5 701.8,638.1 709.3,622.7 716.8,627.5 724.3,614 731.8,616.4 739.2,606.3 746.7,604.4 754.2,597.5 761.7,587.4 769.2,567.4 776.7,562.7 784.2,569 791.6,561.5 799.1,554.9 806.6,560.8 814.1,558.4 821.6,562.2 829.1,560.3 836.5,554.4 844,552.8 851.5,569.8 859,578.5 866.5,568.6 874,559.2 881.4,556.3 888.9,570.9 896.4,568.6 903.9,566.7 911.4,555.1 918.9,551.6 926.3,550.4 933.8,555.6 941.3,551.4 948.8,542.7 956.3,540.3 963.8,535.6 971.3,565 978.7,558.7 986.2,549.7 993.7,546.9 1001.2,542.2 1008.7,535.1 1016.2,558.7 1023.6,550.9 1031.1,600.4 1038.6,604.6 1046.1,600.8 1053.6,603.9 1061.1,625.1 1068.5,629.1 1076,632.9 1083.5,618 1091,621.1 1098.5,621.6 1106,632.9 1113.4,624.6 1120.9,625.1 1128.4,621.1 1135.9,602.7 1143.4,600.8 1150.9,592.1 1158.4,596.8 1165.8,614.5 1173.3,621.6 1180.8,618 1188.3,616.2 1195.8,616.2 1203.3,619.2 1210.7,605.6 1218.2,606.3 1225.7,600.4 1233.2,591 1240.7,589.3 1248.2,596.1 1255.6,597.3 1263.1,596.4 1270.6,599.9 1278.1,602.3 1285.6,598 1293.1,593.3 1300.5,582.2 1308,578.5 1315.5,571.6" fill="none" stroke="#7556c1" stroke-width="1.2" stroke-linejoin="round"/>
</g>
<text x="1405.3" y="113.1" font-family="'Liberation Sans', sans-serif" font-size="14" fill="#131722" font-weight="normal" text-anchor="start" letter-spacing="0.4" >4,200.000</text>
<text x="1405.3" y="169" font-family="'Liberation Sans', sans-serif" font-size="14" fill="#131722" font-weight="normal" text-anchor="start" letter-spacing="0.4" >4,000.000</text>
<text x="1405.3" y="224.8" font-family="'Liberation Sans', sans-serif" font-size="14" fill="#131722" font-weight="normal" text-anchor="start" letter-spacing="0.4" >3,800.000</text>
<text x="1405.3" y="280.7" font-family="'Liberation Sans', sans-serif" font-size="14" fill="#131722" font-weight="normal" text-anchor="start" letter-spacing="0.4" >3,600.000</text>
<text x="1405.3" y="336.5" font-family="'Liberation Sans', sans-serif" font-size="14" fill="#131722" font-weight="normal" text-anchor="start" letter-spacing="0.4" >3,400.000</text>
<text x="1405.3" y="392.3" font-family="'Liberation Sans', sans-serif" font-size="14" fill="#131722" font-weight="normal" text-anchor="start" letter-spacing="0.4" >3,200.000</text>
<text x="1405.3" y="448.2" font-family="'Liberation Sans', sans-serif" font-size="14" fill="#131722" font-weight="normal" text-anchor="start" letter-spacing="0.4" >3,000.000</text>
<text x="1405.3" y="504" font-family="'Liberation Sans', sans-serif" font-size="14" fill="#131722" font-weight="normal" text-anchor="start" letter-spacing="0.4" >2,800.000</text>
<text x="1405.3" y="557.7" font-family="'Liberation Sans', sans-serif" font-size="14" fill="#131722" font-weight="normal" text-anchor="start" letter-spacing="0.4" >80.00</text>
<text x="1405.3" y="606" font-family="'Liberation Sans', sans-serif" font-size="14" fill="#131722" font-weight="normal" text-anchor="start" letter-spacing="0.4" >60.00</text>
<text x="1405.3" y="654.2" font-family="'Liberation Sans', sans-serif" font-size="14" fill="#131722" font-weight="normal" text-anchor="start" letter-spacing="0.4" >40.00</text>
<rect x="1395.2" y="39" width="82.7" height="21.5" rx="2" fill="#f23645"/>
<text x="1405.5" y="54" font-family="'Liberation Sans', sans-serif" font-size="14" fill="#ffffff" font-weight="normal" text-anchor="start" letter-spacing="0.62" stroke="#ffffff" stroke-width="0.45">4,338.459</text>
<rect x="1395.2" y="60" width="82.7" height="38.8" rx="2" fill="#089981"/>
<text x="1405.5" y="74.5" font-family="'Liberation Sans', sans-serif" font-size="14" fill="#ffffff" font-weight="normal" text-anchor="start" letter-spacing="0.62" stroke="#ffffff" stroke-width="0.45">4,336.920</text>
<text x="1405.8" y="93" font-family="'Liberation Sans', sans-serif" font-size="14" fill="#ffffff" font-weight="normal" text-anchor="start" letter-spacing="0.6" fill-opacity="0.8" stroke="#ffffff" stroke-width="0.3" stroke-opacity="0.8">08:41:59</text>
<rect x="1346" y="60.2" width="48.6" height="20.4" rx="2" fill="#089981"/>
<text x="1351.8" y="75.3" font-family="'Liberation Sans', sans-serif" font-size="13.3" fill="#ffffff" font-weight="normal" text-anchor="start" letter-spacing="0" stroke="#ffffff" stroke-width="0.45">GOLD</text>
<rect x="1395" y="105.1" width="83" height="20.6" rx="2" fill="#2962ff"/>
<text x="1405.8" y="119.3" font-family="'Liberation Sans', sans-serif" font-size="14" fill="#ffffff" font-weight="normal" text-anchor="start" letter-spacing="0.62" stroke="#ffffff" stroke-width="0.45">4,177.956</text>
<rect x="1395" y="150.1" width="83" height="20.5" rx="2" fill="#089981"/>
<text x="1405.8" y="164.6" font-family="'Liberation Sans', sans-serif" font-size="14" fill="#ffffff" font-weight="normal" text-anchor="start" letter-spacing="0.62" stroke="#ffffff" stroke-width="0.45">4,017.453</text>
<rect x="1395" y="562.2" width="54.2" height="20.6" rx="2" fill="#7e57c2"/>
<text x="1405.3" y="577.5" font-family="'Liberation Sans', sans-serif" font-size="14" fill="#ffffff" font-weight="normal" text-anchor="start" letter-spacing="0.4" stroke="#ffffff" stroke-width="0.45">71.77</text>
<rect x="1395" y="583.2" width="54.2" height="20.5" rx="2" fill="#fdd835"/>
<text x="1405.3" y="598.5" font-family="'Liberation Sans', sans-serif" font-size="14" fill="#131722" font-weight="normal" text-anchor="start" letter-spacing="0.4" stroke="#131722" stroke-width="0.3">62.84</text>
<text x="140" y="710" font-family="'Liberation Sans', sans-serif" font-size="14" fill="#131722" font-weight="bold" text-anchor="middle" letter-spacing="0" >May</text>
<text x="297.2" y="710" font-family="'Liberation Sans', sans-serif" font-size="14" fill="#131722" font-weight="bold" text-anchor="middle" letter-spacing="0" >Jun</text>
<text x="446.9" y="710" font-family="'Liberation Sans', sans-serif" font-size="14" fill="#131722" font-weight="bold" text-anchor="middle" letter-spacing="0" >Jul</text>
<text x="611.5" y="710" font-family="'Liberation Sans', sans-serif" font-size="14" fill="#131722" font-weight="bold" text-anchor="middle" letter-spacing="0" >Aug</text>
<text x="768.7" y="710" font-family="'Liberation Sans', sans-serif" font-size="14" fill="#131722" font-weight="bold" text-anchor="middle" letter-spacing="0" >Sep</text>
<text x="925.8" y="710" font-family="'Liberation Sans', sans-serif" font-size="14" fill="#131722" font-weight="bold" text-anchor="middle" letter-spacing="0" >Oct</text>
<text x="1098" y="710" font-family="'Liberation Sans', sans-serif" font-size="14" fill="#131722" font-weight="bold" text-anchor="middle" letter-spacing="0" >Nov</text>
<text x="1240.2" y="710" font-family="'Liberation Sans', sans-serif" font-size="14" fill="#131722" font-weight="bold" text-anchor="middle" letter-spacing="0" >Dec</text>
<polygon points="1448.3,705.1 1443.9,712.5 1435.1,712.5 1430.7,705.1 1435.1,697.7 1443.9,697.7" fill="none" stroke="#1a1a1a" stroke-width="1.25" stroke-linejoin="round"/>
<circle cx="1439.5" cy="705.1" r="2.3" fill="none" stroke="#1a1a1a" stroke-width="1.15"/>
<g transform="translate(24.2,647.2) scale(1.03,0.985)" fill="#131722" stroke="#ffffff" stroke-width="1.6" paint-order="stroke"><path d="M14 22H7V11H0V4h14v18zM28 22h-8l7.5-18h8L28 22z"/><circle cx="20" cy="8" r="4"/></g>
<text x="70.2" y="668.8" font-family="'Liberation Sans', sans-serif" font-size="24.6" fill="#131722" font-weight="bold" text-anchor="start" letter-spacing="0.45" stroke="#ffffff" stroke-width="2.4" paint-order="stroke" stroke-linejoin="round">TradingView</text>
<ellipse cx="31.4" cy="26.85" rx="11.3" ry="10.95" fill="#d9a212"/>
<path d="M29.5 21.8 h3.9 l2.5 4 h-8.2 z" fill="url(#gb)"/>
<path d="M25.3 27.05 h3.1 l2.6 3.75 h-8.1 z" fill="url(#gb)"/>
<path d="M34.4 27.05 h3.1 l2.6 3.75 h-8.1 z" fill="url(#gb)"/>
<text x="46.9" y="34.6" font-family="'Liberation Sans', sans-serif" font-size="18" fill="#131722" font-weight="normal" text-anchor="start" letter-spacing="0" textLength="43.9" lengthAdjust="spacingAndGlyphs">CFDs</text>
<text x="96" y="34.6" font-family="'Liberation Sans', sans-serif" font-size="18" fill="#131722" font-weight="normal" text-anchor="start" letter-spacing="0" textLength="21.7" lengthAdjust="spacingAndGlyphs">on</text>
<text x="123.8" y="34.6" font-family="'Liberation Sans', sans-serif" font-size="18" fill="#131722" font-weight="normal" text-anchor="start" letter-spacing="0" textLength="41.6" lengthAdjust="spacingAndGlyphs">Gold</text>
<text x="171.8" y="34.6" font-family="'Liberation Sans', sans-serif" font-size="18" fill="#131722" font-weight="normal" text-anchor="start" letter-spacing="0" textLength="40.7" lengthAdjust="spacingAndGlyphs">(US$</text>
<text x="234.2" y="34.6" font-family="'Liberation Sans', sans-serif" font-size="18" fill="#131722" font-weight="normal" text-anchor="start" letter-spacing="0" textLength="31.3" lengthAdjust="spacingAndGlyphs">OZ)</text>
<text x="281.6" y="34.6" font-family="'Liberation Sans', sans-serif" font-size="18" fill="#131722" font-weight="normal" text-anchor="start" letter-spacing="0" textLength="22.8" lengthAdjust="spacingAndGlyphs">1D</text>
<text x="318.5" y="34.6" font-family="'Liberation Sans', sans-serif" font-size="18" fill="#131722" font-weight="normal" text-anchor="start" letter-spacing="0" textLength="35.6" lengthAdjust="spacingAndGlyphs">TVC</text>
<line x1="220.6" y1="37.2" x2="225.2" y2="21.2" stroke="#131722" stroke-width="1.5"/>
<circle cx="273.5" cy="28.6" r="1.25" fill="#131722"/>
<circle cx="310.9" cy="28.6" r="1.25" fill="#131722"/>
<path d="M369.1 20.5 h14.8 l-4.6 7.15 l4.6 7.15 h-14.8 z" fill="#fb4f50"/>
<path d="M410.5 16.5 h13.8 v21.3 h-13.8 a10.65 10.65 0 0 1 0 -21.3 z" fill="#089981" fill-opacity="0.14"/>
<path d="M424.3 16.5 h13.8 a10.65 10.65 0 0 1 0 21.3 h-13.8 z" fill="#f23676" fill-opacity="0.18"/>
<circle cx="413.1" cy="27.1" r="5" fill="#089981"/>
<text x="436.2" y="33.9" font-family="'Liberation Sans', sans-serif" font-size="21.5" fill="#e2206a" font-weight="normal" text-anchor="middle" letter-spacing="0" stroke="#e2206a" stroke-width="0.5">≈</text>
<text x="459.2" y="32.7" font-family="'Liberation Sans', sans-serif" font-size="15" fill="#131722" font-weight="normal" text-anchor="start" letter-spacing="0" >O</text>
<text x="472" y="32.7" font-family="'Liberation Sans', sans-serif" font-size="15" fill="#089981" font-weight="normal" text-anchor="start" letter-spacing="0.45" >4,299.870</text>
<text x="550.5" y="32.7" font-family="'Liberation Sans', sans-serif" font-size="15" fill="#131722" font-weight="normal" text-anchor="start" letter-spacing="0" >H</text>
<text x="562.6" y="32.7" font-family="'Liberation Sans', sans-serif" font-size="15" fill="#089981" font-weight="normal" text-anchor="start" letter-spacing="0.45" >4,350.420</text>
<text x="642.3" y="32.7" font-family="'Liberation Sans', sans-serif" font-size="15" fill="#131722" font-weight="normal" text-anchor="start" letter-spacing="0" >L</text>
<text x="651" y="32.7" font-family="'Liberation Sans', sans-serif" font-size="15" fill="#089981" font-weight="normal" text-anchor="start" letter-spacing="0.45" >4,295.030</text>
<text x="730.6" y="32.7" font-family="'Liberation Sans', sans-serif" font-size="15" fill="#131722" font-weight="normal" text-anchor="start" letter-spacing="0" >C</text>
<text x="741" y="32.7" font-family="'Liberation Sans', sans-serif" font-size="15" fill="#089981" font-weight="normal" text-anchor="start" letter-spacing="0.45" >4,336.920</text>
<text x="820.5" y="32.7" font-family="'Liberation Sans', sans-serif" font-size="15" fill="#089981" font-weight="normal" text-anchor="start" letter-spacing="0.45" >+37.635</text>
<text x="882.4" y="32.7" font-family="'Liberation Sans', sans-serif" font-size="15" fill="#089981" font-weight="normal" text-anchor="start" letter-spacing="0" >(+0.88%)</text>
<text x="952.5" y="32.7" font-family="'Liberation Sans', sans-serif" font-size="15" fill="#131722" font-weight="normal" text-anchor="start" letter-spacing="0" >Vol</text>
<text x="975" y="32.7" font-family="'Liberation Sans', sans-serif" font-size="15" fill="#089981" font-weight="normal" text-anchor="start" letter-spacing="0" >0</text>
<rect x="19.8" y="47.7" width="98.6" height="41.6" rx="6" fill="#ffffff" stroke="#f23645" stroke-width="1"/>
<text x="69" y="64.9" font-family="'Liberation Sans', sans-serif" font-size="14" fill="#f23645" font-weight="bold" text-anchor="middle" letter-spacing="0.9" >4,336.125</text>
<text x="68.5" y="81.5" font-family="'Liberation Sans', sans-serif" font-size="12.6" fill="#f23645" font-weight="normal" text-anchor="middle" letter-spacing="-0.2" >SELL</text>
<rect x="128" y="60" width="21" height="14" fill="#ffffff"/>
<text x="138.6" y="72" font-family="'Liberation Sans', sans-serif" font-size="12" fill="#131722" font-weight="normal" text-anchor="middle" letter-spacing="0" >660</text>
<rect x="158.6" y="47.7" width="98.8" height="41.6" rx="6" fill="#ffffff" stroke="#2962ff" stroke-width="1"/>
<text x="208.4" y="64.9" font-family="'Liberation Sans', sans-serif" font-size="14" fill="#2962ff" font-weight="bold" text-anchor="middle" letter-spacing="0.9" >4,336.785</text>
<text x="207.9" y="81.5" font-family="'Liberation Sans', sans-serif" font-size="12.8" fill="#2962ff" font-weight="normal" text-anchor="middle" letter-spacing="0" >BUY</text>
<rect x="20" y="98.9" width="37.4" height="24" rx="4" fill="#ffffff" stroke="#d6d8df" stroke-width="1"/>
<path d="M27.3 108.8 l5 4.6 l5 -4.6" fill="none" stroke="#131722" stroke-width="1.5"/>
<text x="44" y="115.2" font-family="'Liberation Sans', sans-serif" font-size="14" fill="#131722" font-weight="normal" text-anchor="start" letter-spacing="0" >4</text>
</svg>
</body></html>
